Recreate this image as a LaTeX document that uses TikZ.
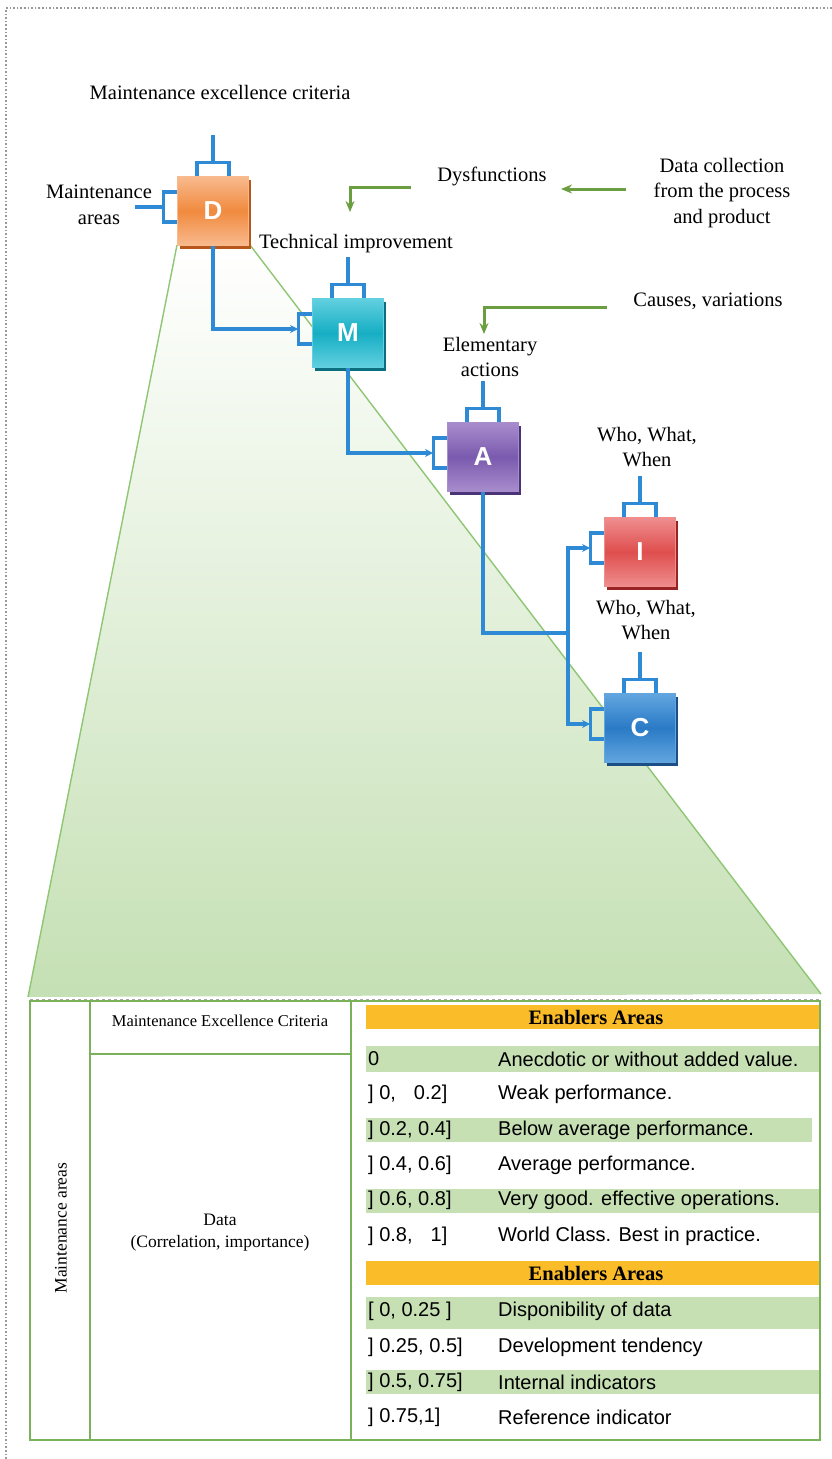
\documentclass[tikz,border=0pt]{standalone}
\usepackage{fontspec}
\setmainfont{Liberation Serif}
\newfontfamily\arialf{Liberation Sans}
\usetikzlibrary{arrows.meta,shadows}

\definecolor{connblue}{HTML}{2F8AD6}
\definecolor{arrgreen}{HTML}{6A9E40}
\definecolor{trapgreen}{HTML}{C5E0B4}
\definecolor{trapedge}{HTML}{8EC673}
\definecolor{tblgreen}{HTML}{79B25A}
\definecolor{bandgreen}{HTML}{C6E0B4}
\definecolor{hdrorange}{HTML}{FBBC2A}
% box colours: light, saturated, shadow
\definecolor{dLight}{HTML}{F9BA8E}\definecolor{dMid}{HTML}{F08A3E}\definecolor{dShadow}{HTML}{B8561C}
\definecolor{mLight}{HTML}{62D0E0}\definecolor{mMid}{HTML}{16AEC4}\definecolor{mShadow}{HTML}{0B6F80}
\definecolor{aLight}{HTML}{A88DCD}\definecolor{aMid}{HTML}{7A5AAE}\definecolor{aShadow}{HTML}{4B3378}
\definecolor{iLight}{HTML}{EF8E8E}\definecolor{iMid}{HTML}{DF4E4E}\definecolor{iShadow}{HTML}{9A2424}
\definecolor{cLight}{HTML}{62A6E0}\definecolor{cMid}{HTML}{2A7AC6}\definecolor{cShadow}{HTML}{1B4F85}

\tikzset{
  lbl/.style={font=\fontsize{20.5}{25.5}\selectfont, inner sep=0pt, align=center},
  conn/.style={draw=connblue, line width=3.1pt},
  connarrow/.style={conn, -{Stealth[length=8pt,width=8pt]}},
  garrow/.style={draw=arrgreen, line width=3pt, -{Stealth[length=11pt,width=9pt]}},
  boxnode/.style n args={3}{draw=#1, line width=0.8pt, top color=#1, bottom color=#1,
    middle color=#2, minimum width=71, minimum height=69, inner sep=0pt,
    font=\arialf\bfseries\fontsize{26}{26}\selectfont, text=white,
    drop shadow={shadow xshift=2.5pt, shadow yshift=-3pt, fill=#3, opacity=1}},
  tline/.style={draw=tblgreen, line width=2.6pt},
  rowtxt/.style={font=\arialf\fontsize{20}{22}\selectfont, anchor=west, inner sep=0pt},
  hdrtxt/.style={font=\bfseries\fontsize{20.5}{22}\selectfont, inner sep=0pt},
}

\newcommand\topbracket[1]{%
  \draw[conn] ([xshift=-16pt]#1.north) -- ++(0pt,14pt) -- ++(32pt,0pt) -- ++(0pt,-14pt);
  \draw[conn] ([yshift=14pt]#1.north) -- ++(0pt,27pt);}
\newcommand\leftbracket[1]{%
  \draw[conn] ([yshift=19pt]#1.west) -- ++(-14pt,0pt) -- ++(0pt,-30pt) -- ++(14pt,0pt);
  \coordinate (#1in) at ([xshift=-14pt,yshift=4pt]#1.west);}

\begin{document}
\begin{tikzpicture}[x=1pt,y=-1pt]
\useasboundingbox (0,0) rectangle (832,1459);

% dotted frame
\draw[gray!80, dotted, line width=1.6pt] (832,8) -- (6,8) -- (6,1459);

% widening green projection from D down to the table
\shade[top color=white, bottom color=trapgreen] (177,245) -- (250,245) -- (821,994) -- (28,997) -- cycle;
\draw[trapedge, line width=1.4pt] (177,245) -- (28,997);
\draw[trapedge, line width=1.4pt] (250,245) -- (821,994);

% boxes
\node[boxnode={dLight}{dMid}{dShadow}] (D) at (213,211) {D};
\node[boxnode={mLight}{mMid}{mShadow}] (M) at (348,333) {M};
\node[boxnode={aLight}{aMid}{aShadow}] (A) at (483,457) {A};
\node[boxnode={iLight}{iMid}{iShadow}] (I) at (640,552) {I};
\node[boxnode={cLight}{cMid}{cShadow}] (C) at (640,728) {C};

\foreach \b in {D,M,A,I,C}{\topbracket{\b}}
\leftbracket{D}\leftbracket{M}\leftbracket{A}\leftbracket{I}\leftbracket{C}

% flow connectors
\coordinate (Dsrc) at (135,207);
\coordinate (split) at (568,633);
\draw[conn] (Dsrc) -- (Din);
\draw[connarrow] (D.south) |- (Min);
\draw[connarrow] (M.south) |- (Ain);
\draw[conn] (A.south) |- (split);
\draw[connarrow] (split) |- (Iin);
\draw[connarrow] (split) |- (Cin);

% labels
\node[lbl] (lexc) at (220,92) {Maintenance excellence criteria};
\node[lbl] (lmarea) at (99,205) {Maintenance\\areas};
\node[lbl] (ldys) at (492,176) {Dysfunctions};
\node[lbl] (ldata) at (722,193) {Data collection\\from the process\\and product};
\node[lbl] (ltech) at (356,244) {Technical improvement};
\node[lbl] (lcause) at (708,301) {Causes, variations};
\node[lbl] (lelem) at (490,357) {Elementary\\actions};
\node[lbl] (lwho1) at (647,447) {Who, What,\\When};
\node[lbl] (lwho2) at (646,620) {Who, What,\\When};

% green feed arrows
\coordinate (g1s) at (626,189); \coordinate (g1e) at (561,189);
\coordinate (g2s) at (411,187); \coordinate (g2e) at (350,212);
\coordinate (g3s) at (607,307); \coordinate (g3e) at (484,334);
\draw[garrow] (g1s) -- (g1e);
\draw[garrow] (g2s) -| (g2e);
\draw[garrow] (g3s) -| (g3e);

% table bands
\fill[hdrorange] (366,1005) rectangle (820,1029);
\fill[bandgreen] (366,1046) rectangle (820,1072);
\fill[bandgreen] (366,1118) rectangle (812,1142);
\fill[bandgreen] (366,1189) rectangle (820,1213);
\fill[hdrorange] (366,1261) rectangle (820,1285);
\fill[bandgreen] (366,1297) rectangle (820,1329);
\fill[bandgreen] (366,1370) rectangle (820,1394);

% table grid
\draw[tline] (30,1001) rectangle (820,1440);
\draw[tline] (90,1001) -- (90,1440);
\draw[tline] (351,1001) -- (351,1440);
\draw[tline] (90,1054) -- (351,1054);
\draw[gray!70, dashed, line width=0.8pt] (30,999) -- (820,999);

% table texts
\node[font=\fontsize{17.5}{19}\selectfont, rotate=90, inner sep=0pt] (tmarea) at (61,1228) {Maintenance areas};
\node[font=\fontsize{16.5}{19}\selectfont, inner sep=0pt] (tcrit) at (220,1021) {Maintenance Excellence Criteria};
\node[font=\fontsize{17.5}{22}\selectfont, align=center, inner sep=0pt] (tdata) at (220,1233) {Data\\(Correlation, importance)};

\node[hdrtxt] (h1) at (596,1017) {Enablers Areas};
\node[hdrtxt] (h2) at (596,1273) {Enablers Areas};

\node[rowtxt] (r1) at (368,1059) {0};
\node[rowtxt] (d1) at (498,1059) {Anecdotic or without added value.};
\node[rowtxt] (r2) at (368,1094) {] 0,\hspace{18pt}0.2]};
\node[rowtxt] (d2) at (498,1094) {Weak performance.};
\node[rowtxt] (r3) at (368,1130) {] 0.2, 0.4]};
\node[rowtxt] (d3) at (498,1130) {Below average performance.};
\node[rowtxt] (r4) at (368,1165) {] 0.4, 0.6]};
\node[rowtxt] (d4) at (498,1165) {Average performance.};
\node[rowtxt] (r5) at (368,1200) {] 0.6, 0.8]};
\node[rowtxt] (d5) at (498,1200) {Very good. effective operations.};
\node[rowtxt] (r6) at (368,1236) {] 0.8,\hspace{18pt}1]};
\node[rowtxt] (d6) at (498,1236) {World Class. Best in practice.};
\node[rowtxt] (r7) at (368,1311) {[ 0, 0.25 ]};
\node[rowtxt] (d7) at (498,1311) {Disponibility of data};
\node[rowtxt] (r8) at (368,1347) {] 0.25, 0.5]};
\node[rowtxt] (d8) at (498,1347) {Development tendency};
\node[rowtxt] (r9) at (368,1382) {] 0.5, 0.75]};
\node[rowtxt] (d9) at (498,1382) {Internal indicators};
\node[rowtxt] (r10) at (368,1417) {] 0.75,1]};
\node[rowtxt] (d10) at (498,1417) {Reference indicator};
\end{tikzpicture}
\end{document}
